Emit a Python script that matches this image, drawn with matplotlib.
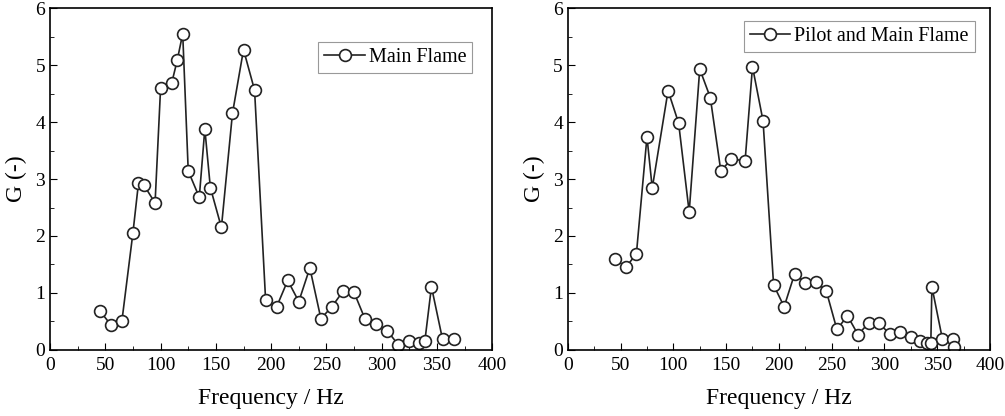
import matplotlib
matplotlib.use("Agg")
import matplotlib.pyplot as plt
from matplotlib.ticker import MultipleLocator

plt.rcParams["font.family"] = ["Liberation Serif", "DejaVu Serif"]

# Main flame only
main_freq = [45, 55, 65, 75, 80, 85, 95, 100, 110, 115, 120, 125, 135, 140, 145,
             155, 165, 175, 185, 195, 205, 215, 225, 235, 245, 255, 265, 275,
             285, 295, 305, 315, 325, 334, 339, 345, 355, 365]
main_gain = [0.69, 0.44, 0.51, 2.06, 2.93, 2.89, 2.58, 4.60, 4.68, 5.08, 5.55,
             3.14, 2.68, 3.88, 2.85, 2.15, 4.15, 5.27, 4.56, 0.87, 0.76, 1.22,
             0.85, 1.44, 0.55, 0.76, 1.03, 1.01, 0.54, 0.45, 0.34, 0.09, 0.16,
             0.13, 0.15, 1.11, 0.19, 0.20]

# Pilot and main flame
pilot_freq = [45, 55, 65, 75, 80, 95, 105, 115, 125, 135, 145, 155, 168, 175,
              185, 195, 205, 215, 225, 235, 245, 255, 265, 275, 285, 295, 305,
              315, 325, 334, 340, 344, 345, 355, 365, 366]
pilot_gain = [1.60, 1.45, 1.69, 3.74, 2.84, 4.55, 3.98, 2.42, 4.93, 4.43, 3.14,
              3.35, 3.32, 4.97, 4.02, 1.14, 0.76, 1.34, 1.18, 1.20, 1.03, 0.36,
              0.60, 0.27, 0.47, 0.47, 0.28, 0.31, 0.23, 0.16, 0.13, 0.12, 1.11,
              0.19, 0.20, 0.06]


def draw_panel(ax, freq, gain, label, anchor):
    ax.plot(freq, gain, color="#222222", lw=1.2, marker="o", ms=8.5,
            mfc="white", mec="#222222", mew=1.2, label=label)
    ax.set_xlim(0, 400)
    ax.set_ylim(0, 6)
    ax.xaxis.set_major_locator(MultipleLocator(50))
    ax.xaxis.set_minor_locator(MultipleLocator(25))
    ax.yaxis.set_major_locator(MultipleLocator(1))
    ax.yaxis.set_minor_locator(MultipleLocator(0.5))
    ax.tick_params(which="both", direction="in", top=False, right=False,
                   labelsize=14)
    ax.tick_params(axis="x", pad=5)
    ax.tick_params(which="major", length=5)
    ax.tick_params(which="minor", length=3)
    ax.set_xlabel("Frequency / Hz", fontsize=17, labelpad=10)
    ax.set_ylabel("G (-)", fontsize=17, labelpad=6)
    for s in ax.spines.values():
        s.set_linewidth(1.2)
    leg = ax.legend(loc="upper right", bbox_to_anchor=anchor, fontsize=14.5,
                    fancybox=False, framealpha=1, borderpad=0.3,
                    handlelength=2.0, handletextpad=0.2, borderaxespad=0)
    leg.get_frame().set_edgecolor("#999999")
    leg.get_frame().set_linewidth(0.8)


fig = plt.figure(figsize=(10.05, 4.16), dpi=100)
ax1 = fig.add_axes([0.0498, 0.1587, 0.44, 0.822])
ax2 = fig.add_axes([0.565, 0.1587, 0.42, 0.822])

draw_panel(ax1, main_freq, main_gain, "Main Flame", (0.955, 0.90))
draw_panel(ax2, pilot_freq, pilot_gain, "Pilot and Main Flame", (0.964, 0.962))

fig.savefig("out.png", dpi=100)
plt.close(fig)
